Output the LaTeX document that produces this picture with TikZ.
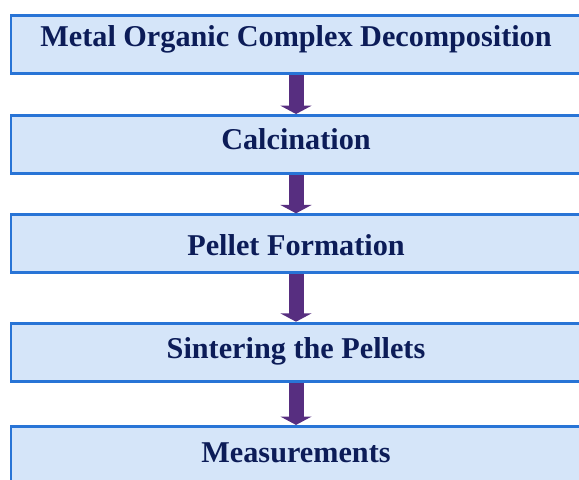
\documentclass[tikz,border=0pt]{standalone}
\usepackage{fontspec}
\setmainfont{Liberation Serif}
\usepackage{xcolor}
\usepackage{tikz}
\usetikzlibrary{arrows.meta}
\definecolor{stepblue}{RGB}{40, 116, 214}
\definecolor{steplight}{RGB}{213, 229, 249}
\definecolor{arrowpurple}{RGB}{87, 46, 128}
\definecolor{textnavy}{RGB}{12, 28, 88}

\begin{document}
\begin{tikzpicture}[
        stagebox/.style={rectangle, draw=stepblue, line width=2.1pt, fill=steplight, minimum width=14.25cm, minimum height=1.45cm, text height=0.5cm, text depth=0.25cm, inner sep=0pt, text=textnavy, font=\fontsize{21.5}{25}\selectfont\bfseries},
        flow/.style={-{Triangle[width=0.775cm, length=0.21cm]}, line width=0.375cm, color=arrowpurple}
    ]
    \clip (0, 0) rectangle (14.475, 11.975);

    % Process stages
    \node[stagebox, text depth=0.375cm] (mocd) at (7.4, 10.8625) {Metal Organic Complex Decomposition};
    \node[stagebox, text depth=0.225cm] (calc) at (7.4, 8.3625) {Calcination};
    \node[stagebox, text height=0.575cm, text depth=0cm] (pellet) at (7.4, 5.88) {Pellet Formation};
    \node[stagebox, text depth=0.2cm] (sinter) at (7.4, 3.17) {Sintering the Pellets};
    \node[stagebox, text depth=0.125cm] (meas) at (7.4, 0.59) {Measurements};

    % Flow between stages
    \draw[flow] (mocd) -- (calc);
    \draw[flow] (calc) -- (pellet);
    \draw[flow] (pellet) -- (sinter);
    \draw[flow] (sinter) -- (meas);

\end{tikzpicture}
\end{document}
